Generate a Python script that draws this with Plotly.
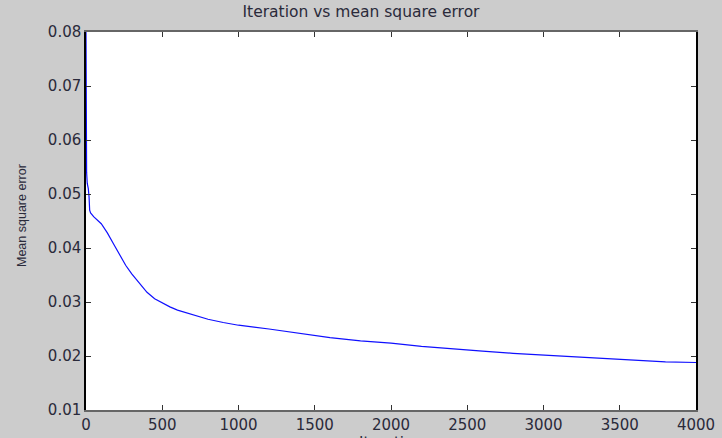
import plotly.graph_objects as go

iterations = [0, 1, 2, 4, 8, 15, 20, 24, 30, 50, 100, 140, 180, 220, 260, 300, 350, 400, 450, 500,
              550, 600, 700, 800, 900, 1000, 1200, 1400, 1600, 1800, 2000, 2200, 2400, 2600, 2800,
              3000, 3200, 3400, 3600, 3800, 4000]
mse = [0.080, 0.064, 0.058, 0.054, 0.052, 0.051, 0.0495, 0.047, 0.0465, 0.0458, 0.0445, 0.0428,
       0.0408, 0.0387, 0.0368, 0.0352, 0.0334, 0.0318, 0.0306, 0.0298, 0.0291, 0.0285, 0.0276,
       0.0268, 0.0262, 0.0257, 0.0250, 0.0242, 0.0234, 0.0228, 0.0224, 0.0218, 0.0213, 0.0209,
       0.0205, 0.0202, 0.0198, 0.0195, 0.0192, 0.0189, 0.0188]

x_ticks = [0, 500, 1000, 1500, 2000, 2500, 3000, 3500, 4000]
y_ticks = [0.01, 0.02, 0.03, 0.04, 0.05, 0.06, 0.07, 0.08]
y_tick_labels = ["0.01", "0.02", "0.03", "0.04", "0.05", "0.06", "0.07", "0.08"]

W, H = 722, 438
L, R, T, B = 86, 26, 32, 28

fig = go.Figure()
fig.add_trace(go.Scatter(x=iterations, y=mse, mode="lines",
                         line=dict(color="#1010ff", width=1.2), showlegend=False))

tick_font = dict(family="DejaVu Sans", size=15, color="#2a2a3a")
text_color = "#2a2a3a"

plot_w = W - L - R
plot_h = H - T - B

fig.update_layout(
    width=W, height=H,
    paper_bgcolor="#cccccc", plot_bgcolor="white",
    margin=dict(l=L, r=R, t=T, b=B),
    title=dict(text="Iteration vs mean square error", x=0.5, xanchor="center",
               y=1 - 12 / H, yanchor="middle", yref="container",
               font=dict(family="DejaVu Sans", size=15.5, color=text_color)),
    xaxis=dict(range=[0, 4000], tickvals=x_ticks, ticks="inside", ticklen=5,
               tickcolor="#333", showgrid=False, zeroline=False, showline=True,
               linecolor="#666", linewidth=2, mirror="ticks", tickfont=tick_font,
               automargin=False),
    yaxis=dict(range=[0.01, 0.08], tickvals=y_ticks, ticktext=y_tick_labels, ticks="inside",
               ticklen=5, tickcolor="#333", showgrid=False, zeroline=False, showline=True,
               linecolor="black", linewidth=1.5, mirror="ticks", tickfont=tick_font,
               automargin=False),
    annotations=[
        dict(text="Mean square error", textangle=-90, showarrow=False,
             xref="paper", yref="paper",
             x=(22 - L) / plot_w, y=(H - B - 216) / plot_h,
             xanchor="center", yanchor="middle",
             font=dict(family="Liberation Sans", size=12.5, color=text_color)),
        dict(text="Iteration", showarrow=False, xref="paper", yref="paper",
             x=0.5, y=(H - B - 443) / plot_h, xanchor="center", yanchor="middle",
             font=dict(family="DejaVu Sans", size=15, color=text_color)),
    ],
)

fig.write_html(
    "out.html",
    config={"displayModeBar": False},
    post_script="document.body.style.margin='0';document.body.style.background='#cccccc';",
)
